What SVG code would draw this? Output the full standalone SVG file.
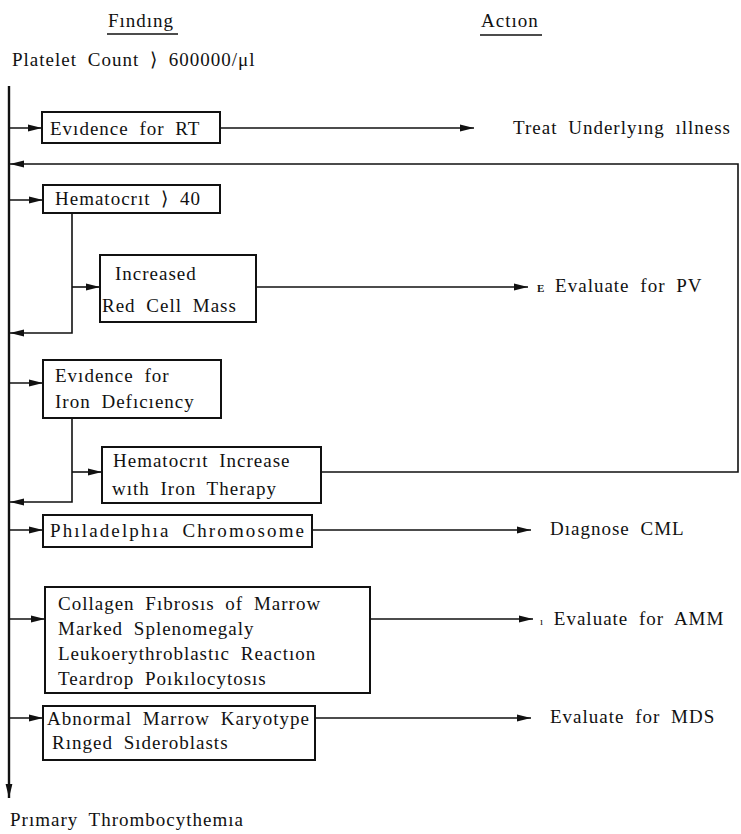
<svg xmlns="http://www.w3.org/2000/svg" width="741" height="834" viewBox="0 0 741 834" font-family="'Liberation Serif', 'Times New Roman', serif">
<defs>
<style>
text{font-family:'Liberation Serif','Times New Roman',serif;font-size:19px;fill:#111;word-spacing:5px;letter-spacing:1px}
.box{fill:#fff;stroke:#111;stroke-width:2}
.ln{fill:none;stroke:#111;stroke-width:1.6}
.main{fill:none;stroke:#111;stroke-width:2.4}
.ul{stroke:#111;stroke-width:1.3}
</style>
<marker id="ah" viewBox="0 0 14 8" refX="14" refY="4" markerWidth="14" markerHeight="8" markerUnits="userSpaceOnUse" orient="auto">
<path d="M0,0.6 L14,4 L0,7.4 Z" fill="#111"/>
</marker>
</defs>
<rect width="741" height="834" fill="#fff"/>

<g id="headers">
<text x="108" y="27">Fındıng</text>
<line class="ul" x1="107" y1="34" x2="178" y2="34"/>
<text x="481" y="27">Actıon</text>
<line class="ul" x1="480" y1="35" x2="542" y2="35"/>
</g>

<g id="start"><text x="12" y="66">Platelet Count ⟩ 600000/μl</text></g>

<g id="connectors">
<line class="main" x1="9" y1="86" x2="9" y2="798" marker-end="url(#ah)"/>
<line class="ln" x1="9" y1="128" x2="42" y2="128" marker-end="url(#ah)"/>
<line class="ln" x1="220" y1="128" x2="474" y2="128" marker-end="url(#ah)"/>
<polyline class="ln" points="321,472 738,472 738,164 10,164" marker-end="url(#ah)"/>
<line class="ln" x1="9" y1="200" x2="43" y2="200" marker-end="url(#ah)"/>
<polyline class="ln" points="72,213 72,333 10,333" marker-end="url(#ah)"/>
<line class="ln" x1="72" y1="287" x2="100" y2="287" marker-end="url(#ah)"/>
<line class="ln" x1="256" y1="287" x2="528" y2="287" marker-end="url(#ah)"/>
<line class="ln" x1="9" y1="383" x2="43" y2="383" marker-end="url(#ah)"/>
<polyline class="ln" points="72,418 72,502 10,502" marker-end="url(#ah)"/>
<line class="ln" x1="72" y1="472" x2="102" y2="472" marker-end="url(#ah)"/>
<line class="ln" x1="9" y1="530" x2="43" y2="530" marker-end="url(#ah)"/>
<line class="ln" x1="312" y1="530" x2="531" y2="530" marker-end="url(#ah)"/>
<line class="ln" x1="9" y1="619" x2="45" y2="619" marker-end="url(#ah)"/>
<line class="ln" x1="370" y1="619" x2="533" y2="619" marker-end="url(#ah)"/>
<line class="ln" x1="9" y1="718" x2="43" y2="718" marker-end="url(#ah)"/>
<line class="ln" x1="315" y1="718" x2="531" y2="718" marker-end="url(#ah)"/>
</g>

<g id="n-rt">
<rect class="box" x="42" y="112" width="178" height="31"/>
<text x="50" y="135">Evıdence for RT</text>
</g>
<g id="a-treat"><text x="513" y="134">Treat Underlyıng ıllness</text></g>

<g id="n-hct">
<rect class="box" x="43" y="185" width="177" height="28"/>
<text x="55" y="205">Hematocrıt ⟩ 40</text>
</g>

<g id="n-rcm">
<rect class="box" x="100" y="255" width="156" height="67"/>
<text x="115" y="280">Increased</text>
<text x="102" y="312">Red Cell Mass</text>
</g>
<g id="a-pv"><text x="537" y="292"><tspan font-size="11" font-weight="bold" letter-spacing="0">E</tspan> Evaluate for PV</text></g>

<g id="n-iron">
<rect class="box" x="43" y="360" width="178" height="58"/>
<text x="55" y="382">Evıdence for</text>
<text x="55" y="408">Iron Defıcıency</text>
</g>

<g id="n-hctiron">
<rect class="box" x="102" y="447" width="219" height="56"/>
<text x="113" y="467">Hematocrıt Increase</text>
<text x="112" y="495">wıth Iron Therapy</text>
</g>

<g id="n-ph">
<rect class="box" x="43" y="515" width="269" height="32"/>
<text x="50" y="537" textLength="255" lengthAdjust="spacing">Phıladelphıa Chromosome</text>
</g>
<g id="a-cml"><text x="550" y="535">Dıagnose CML</text></g>

<g id="n-amm">
<rect class="box" x="45" y="587" width="325" height="106"/>
<text x="58" y="610">Collagen Fıbrosıs of Marrow</text>
<text x="58" y="635">Marked Splenomegaly</text>
<text x="58" y="660">Leukoerythroblastıc Reactıon</text>
<text x="58" y="685">Teardrop Poıkılocytosıs</text>
</g>
<g id="a-amm"><text x="540" y="625"><tspan font-size="11" letter-spacing="0">ı</tspan> Evaluate for AMM</text></g>

<g id="n-mds">
<rect class="box" x="43" y="706" width="272" height="54"/>
<text x="47" y="725">Abnormal Marrow Karyotype</text>
<text x="52" y="749">Rınged Sıderoblasts</text>
</g>
<g id="a-mds"><text x="550" y="723">Evaluate for MDS</text></g>

<g id="end"><text x="10" y="826" font-size="18" letter-spacing="0.2" word-spacing="3">Prımary Thrombocythemıa</text></g>
</svg>
